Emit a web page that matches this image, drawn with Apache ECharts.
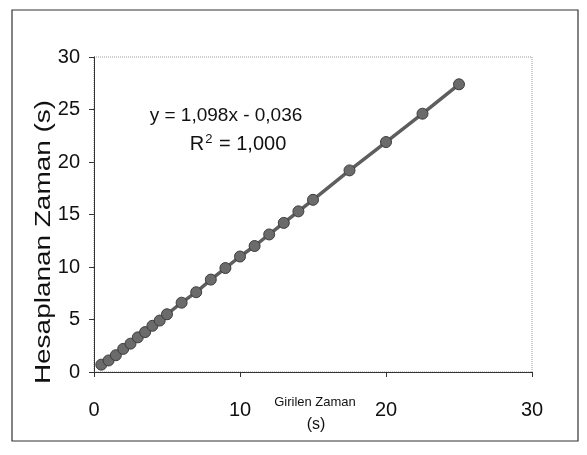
<!DOCTYPE html>
<html>
<head>
<meta charset="utf-8">
<script src="https://cdn.jsdelivr.net/npm/echarts@6/dist/echarts.min.js"></script>
<style>html,body{margin:0;padding:0;background:#fff;}#c{width:587px;height:455px;}</style>
</head>
<body>
<div id="c"></div>
<script>
const enteredTime = [0.5, 1.0, 1.5, 2.0, 2.5, 3.0, 3.5, 4.0, 4.5, 5.0, 6.0, 7.0, 8.0, 9.0, 10.0, 11.0, 12.0, 13.0, 14.0, 15.0, 17.5, 20.0, 22.5, 25.0];
const computedTime = [0.7, 1.1, 1.6, 2.2, 2.7, 3.3, 3.8, 4.4, 4.9, 5.5, 6.6, 7.6, 8.8, 9.9, 11.0, 12.0, 13.1, 14.2, 15.3, 16.4, 19.2, 21.9, 24.6, 27.4];
const xTicks = [0, 10, 20, 30];
const yTicks = [0, 5, 10, 15, 20, 25, 30];
const yAxisTitle = 'Hesaplanan Zaman (s)';
const xAxisTitle1 = 'Girilen Zaman';
const xAxisTitle2 = '(s)';
const eqLine1 = 'y = 1,098x - 0,036';

const chart = echarts.init(document.getElementById('c'), null, {renderer: 'canvas'});
const font = '"Liberation Sans", Arial, sans-serif';
chart.setOption({
  backgroundColor: '#fff',
  animation: false,
  grid: {left: 94, right: 55, top: 57, bottom: 83, show: true, borderColor: '#999', borderType: 'dotted', borderWidth: 1, backgroundColor: 'transparent'},
  xAxis: {
    type: 'value', min: xTicks[0], max: xTicks[xTicks.length - 1], interval: 10,
    axisLine: {show: true, onZero: false, lineStyle: {color: '#333', width: 1}},
    axisTick: {show: true, length: 5, lineStyle: {color: '#333'}},
    splitLine: {show: false},
    axisLabel: {color: '#111', fontSize: 20, fontFamily: font, margin: 28}
  },
  yAxis: {
    type: 'value', min: yTicks[0], max: yTicks[yTicks.length - 1], interval: 5,
    axisLine: {show: true, onZero: false, lineStyle: {color: '#333', width: 1}},
    axisTick: {show: true, length: 5, lineStyle: {color: '#333'}},
    splitLine: {show: false},
    axisLabel: {color: '#111', fontSize: 20, fontFamily: font, margin: 14}
  },
  graphic: [
    {type: 'rect', shape: {x: 12, y: 10, width: 566, height: 431}, style: {fill: 'none', stroke: '#333', lineWidth: 1.2}, z: -1},
    {type: 'text', x: 44, y: 242, rotation: Math.PI / 2, scaleX: 1.27, style: {text: yAxisTitle, font: '22px ' + font, fill: '#111', align: 'center', verticalAlign: 'middle'}},
    {type: 'text', x: 315, y: 402, style: {text: xAxisTitle1, font: '13px ' + font, fill: '#111', align: 'center', verticalAlign: 'middle'}},
    {type: 'text', x: 316, y: 425, style: {text: xAxisTitle2, font: '16px ' + font, fill: '#111', align: 'center', verticalAlign: 'middle'}},
    {type: 'text', x: 226, y: 116, style: {text: eqLine1, font: '19px ' + font, fill: '#111', align: 'center', verticalAlign: 'middle'}},
    {type: 'text', x: 238, y: 144, style: {rich: {a: {font: '20px ' + font, fill: '#111'}, s: {font: '13px ' + font, fill: '#111', verticalAlign: 'top', padding: [0, 1, 10, 1]}}, text: '{a|R}{s|2}{a| = 1,000}', align: 'center', verticalAlign: 'middle'}}
  ],
  series: [{
    type: 'line',
    data: enteredTime.map((x, i) => [x, computedTime[i]]),
    symbol: 'circle', symbolSize: 11,
    lineStyle: {color: '#5e5e5e', width: 3.5},
    itemStyle: {color: '#6b6b6b', borderColor: '#3d3d3d', borderWidth: 1}
  }]
});
</script>
</body>
</html>
